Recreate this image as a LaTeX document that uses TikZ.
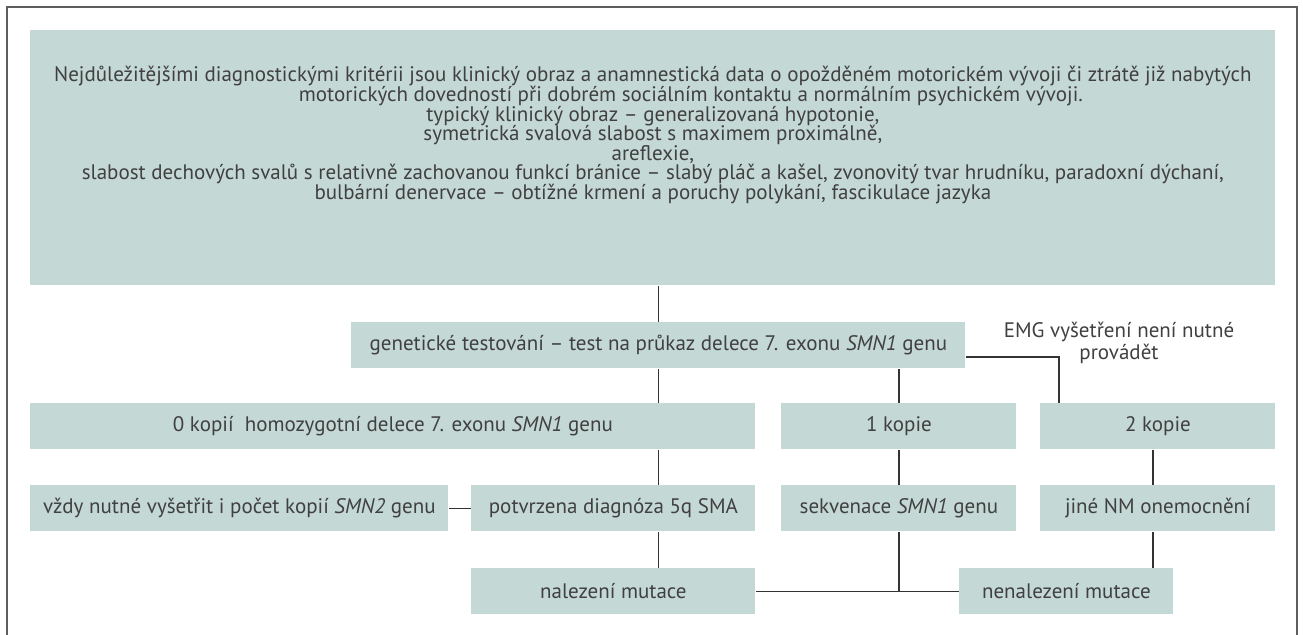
\documentclass[tikz,border=0pt]{standalone}
\usepackage{fontspec}
\setmainfont{PT Sans}
\usepackage{tikz}
\definecolor{dxFill}{HTML}{C4D8D5}
\definecolor{dxInk}{HTML}{404040}
\definecolor{dxLine}{HTML}{333333}
\definecolor{dxFrame}{HTML}{5E5E5E}
\tikzset{
  dx diagram/.style={font=\fontsize{10.5}{9.8}\selectfont, text=dxInk},
  dx box/.style={fill=dxFill, draw=none, inner sep=0pt, anchor=north west,
    minimum height=23pt, align=center},
  dx link/.style={draw=dxLine, line width=0.75pt},
  dx note/.style={align=center, inner sep=0pt},
  dx frame/.style={draw=dxFrame, line width=1pt}
}
\begin{document}
\begin{tikzpicture}[dx diagram, x=0.5pt, y=-0.5pt]
\useasboundingbox (0,0) rectangle (1303,635);
\draw[dx frame] (7,635) -- (7,7) -- (1297,7) -- (1297,635);
% criteria
\node[dx box, minimum width=622.5pt, minimum height=127.5pt] (crit) at (30,30)
 {\parbox[c][127.5pt][t]{622.5pt}{\centering\lineskiplimit=-10pt\vspace*{18pt}%
  Nejdůležitějšími diagnostickými kritérii jsou klinický obraz a anamnestická data o opožděném motorickém vývoji či ztrátě již nabytých\\
  \hspace*{38pt}motorických dovedností při dobrém sociálním kontaktu a normálním psychickém vývoji.\\
  typický klinický obraz – generalizovaná hypotonie,\\
  symetrická svalová slabost s maximem proximálně,\\
  areflexie,\\
  slabost dechových svalů s relativně zachovanou funkcí bránice – slabý pláč a kašel, zvonovitý tvar hrudníku, paradoxní dýchaní,\\
  bulbární denervace – obtížné krmení a poruchy polykání, fascikulace jazyka}};
% testing
\node[dx box, minimum width=307pt] (gen) at (351,322)
 {genetické testování – test na průkaz delece 7. exonu \textit{SMN1} genu};
\node[dx note] (emg) at (1119,343) {\lineskiplimit=-10pt EMG vyšetření není nutné\\provádět};
% copies
\node[dx box, minimum width=362.5pt] (zero) at (30,403)
 {0 kopií\ \ homozygotní delece 7. exonu \textit{SMN1} genu};
\node[dx box, minimum width=117.5pt] (one) at (781,403) {1 kopie};
\node[dx box, minimum width=117.5pt] (two) at (1040,403) {2 kopie};
% results
\node[dx box, minimum width=209pt] (always) at (30,485)
 {vždy nutné vyšetřit i počet kopií \textit{SMN2} genu};
\node[dx box, minimum width=142pt] (confirmed) at (471,485) {potvrzena diagnóza 5q SMA};
\node[dx box, minimum width=117.5pt] (sequencing) at (781,485) {sekvenace \textit{SMN1} genu};
\node[dx box, minimum width=117.5pt] (other) at (1040,485) {jiné NM onemocnění};
\node[dx box, minimum width=142pt] (found) at (471,568) {nalezení mutace};
\node[dx box, minimum width=107pt] (notfound) at (959,568) {nenalezení mutace};
% connectors
\coordinate (emg turn) at (1059,357);
\draw[dx link] (crit.south -| gen.north) -- (gen.north);
\draw[dx link] (gen.south) -- (gen.south |- zero.north);
\draw[dx link] (zero.south -| gen) -- (confirmed.north -| gen);
\draw[dx link] (confirmed.south -| gen) -- (found.north -| gen);
\draw[dx link] (gen.south -| one) -- (one.north);
\draw[dx link] (gen.east |- emg turn) -- (emg turn) -- (emg turn |- two.north);
\draw[dx link] (one.south) -- (sequencing.north);
\draw[dx link] ([xshift=-2.5pt]two.south) -- ([xshift=-2.5pt]other.north);
\draw[dx link] (always.east) -- (confirmed.west);
\draw[dx link] (sequencing.south) -- (sequencing.south |- found.east);
\draw[dx link] (found.east) -- (notfound.west);
\draw[dx link] ([xshift=-2.5pt]other.south) -- ([xshift=-2.5pt]other.south |- notfound.north);
\end{tikzpicture}
\end{document}
